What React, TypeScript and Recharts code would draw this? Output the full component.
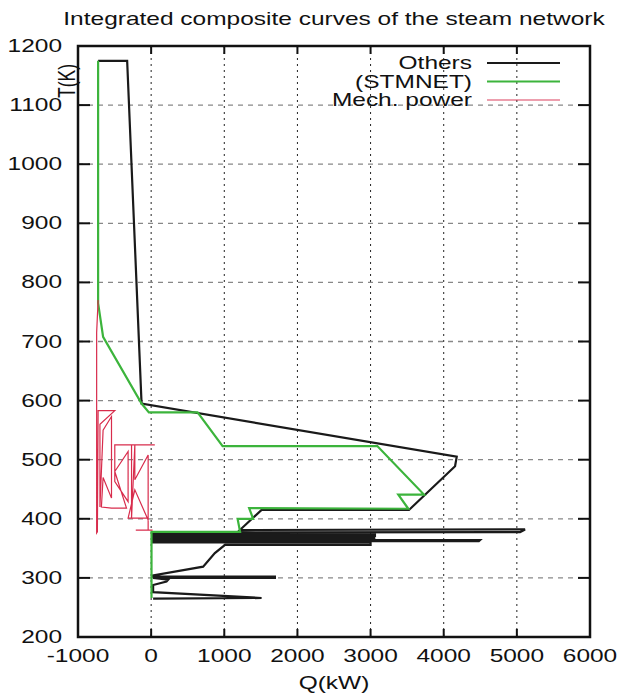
import { ComposedChart, Line, XAxis, YAxis, CartesianGrid, ReferenceArea } from 'recharts';

// Q (kW), T (K), in plotting order
const othersCurve: number[][] = [
  [-725, 1175], [-328, 1175], [-131, 595], [4178, 505], [4155, 489], [3525, 415],
  [1510, 415], [1213, 381], [5112, 382], [5044, 377.5], [25, 377], [25, 374],
  [3060, 374], [3060, 371], [25, 371], [25, 368], [3050, 368], [3050, 366],
  [25, 366], [25, 364], [4497, 364], [4480, 362], [25, 362], [25, 360],
  [3000, 360], [3000, 356], [1010, 356], [871, 342], [711, 319], [27, 304],
  [27, 302], [1692, 302], [1692, 300], [27, 300], [233, 297], [210, 294],
  [27, 288], [27, 276], [1510, 266], [27, 265],
];

const stmnetCurve: number[][] = [
  [-725, 1175], [-725, 765], [-657, 708], [-131, 595], [-31, 580], [635, 580],
  [977, 523], [3092, 523], [3730, 441], [3379, 441], [3516, 417], [1340, 418],
  [1395, 400], [1182, 400], [1216, 378], [5, 378], [5, 266],
];

const mechCurve: number[][] = [
  [-725, 770], [-745, 715], [-745, 376], [-735, 378], [-725, 583], [-497, 583],
  [-700, 560], [-700, 420], [-657, 550], [-542, 573], [-542, 435], [-657, 470],
  [-680, 420], [-542, 418], [-337, 418], [-497, 480], [-315, 514], [-315, 429],
  [-497, 463], [-497, 525], [50, 525], [-268, 525], [-268, 401], [-223, 525],
  [-223, 466], [-41, 508], [-41, 398], [-223, 449], [-315, 401], [-41, 401],
  [-41, 381], [-210, 381], [20, 381],
];

const seriesNames = ['Others', '(STMNET)', 'Mech. power'];
const xTicks = [-1000, 0, 1000, 2000, 3000, 4000, 5000, 6000];
const yTicks = [200, 300, 400, 500, 600, 700, 800, 900, 1000, 1100, 1200];

const toPoints = (c: number[][]) => c.map(([q, t]) => ({ q, t }));

const PLOT = { left: 78, top: 46, right: 590, bottom: 637 };
const SX = 1.4; // the picture is stretched sideways
const FONT = '"Liberation Sans", Arial, sans-serif';
const FS = 17.5;
const colors = ['#1a1a1a', '#3cb43c', '#d82c4c'];

function Stretched({ x, y, anchor = 'middle', children, rotate = 0 }: any) {
  return (
    <text
      transform={`translate(${x},${y}) scale(${SX},1) rotate(${rotate})`}
      textAnchor={anchor}
      fontFamily={FONT}
      fontSize={FS}
      fill="#111"
    >
      {children}
    </text>
  );
}

const XTick = ({ x, payload }: any) => (
  <g>
    <line x1={x} x2={x} y1={PLOT.bottom} y2={PLOT.bottom - 8} stroke="#111" strokeWidth={2} />
    <line x1={x} x2={x} y1={PLOT.top} y2={PLOT.top + 8} stroke="#111" strokeWidth={2} />
    <Stretched x={x} y={PLOT.bottom + 25}>{payload.value}</Stretched>
  </g>
);

const YTick = ({ y, payload }: any) => (
  <g>
    <line x1={PLOT.left} x2={PLOT.left + 12} y1={y} y2={y} stroke="#111" strokeWidth={2} />
    <line x1={PLOT.right} x2={PLOT.right - 12} y1={y} y2={y} stroke="#111" strokeWidth={2} />
    <Stretched x={PLOT.left - 16} y={y + 6} anchor="end">{payload.value}</Stretched>
  </g>
);

export default function App() {
  return (
    <div style={{ position: 'absolute', left: 0, top: 0, width: 622, height: 693, background: '#fff' }}>
      <ComposedChart
        width={622}
        height={693}
        margin={{ top: PLOT.top, left: PLOT.left - 30, right: 622 - PLOT.right, bottom: 693 - PLOT.bottom - 30 }}
      >
        <CartesianGrid horizontal={false} stroke="#222" strokeDasharray="2 4" />
        <CartesianGrid vertical={false} stroke="#888" strokeWidth={1.3} strokeDasharray="5 5" />
        <XAxis
          type="number"
          dataKey="q"
          domain={[-1000, 6000]}
          ticks={xTicks}
          allowDataOverflow
          height={30}
          axisLine={false}
          tickLine={false}
          tick={(p: any) => <XTick {...p} />}
          interval={0}
        />
        <YAxis
          type="number"
          dataKey="t"
          domain={[200, 1200]}
          ticks={yTicks}
          allowDataOverflow
          width={30}
          axisLine={false}
          tickLine={false}
          tick={(p: any) => <YTick {...p} />}
          interval={0}
        />
        <Line data={toPoints(othersCurve)} dataKey="t" name={seriesNames[0]} type="linear" stroke={colors[0]} strokeWidth={2.2} dot={false} isAnimationActive={false} />
        <Line data={toPoints(stmnetCurve)} dataKey="t" name={seriesNames[1]} type="linear" stroke={colors[1]} strokeWidth={2.2} dot={false} isAnimationActive={false} />
        <Line data={toPoints(mechCurve)} dataKey="t" name={seriesNames[2]} type="linear" stroke={colors[2]} strokeWidth={1.2} dot={false} isAnimationActive={false} />
        <ReferenceArea x1={-1000} x2={6000} y1={200} y2={1200} fill="none" stroke="#111" strokeWidth={2.5} />
      </ComposedChart>
      <svg width={622} height={693} style={{ position: 'absolute', left: 0, top: 0, pointerEvents: 'none' }}>
        <Stretched x={(PLOT.left + PLOT.right) / 2} y={25}>Integrated composite curves of the steam network</Stretched>
        <Stretched x={(PLOT.left + PLOT.right) / 2} y={689}>Q(kW)</Stretched>
        <Stretched x={75} y={81} rotate={-90}>T(K)</Stretched>
        {seriesNames.map((n, i) => (
          <g key={n}>
            <Stretched x={472} y={69 + i * 18.5} anchor="end">{n}</Stretched>
            <line x1={487} x2={560} y1={63 + i * 18.5} y2={63 + i * 18.5} stroke={colors[i]} strokeWidth={i === 2 ? 1.3 : 2} opacity={i === 2 ? 0.6 : 1} />
          </g>
        ))}
      </svg>
    </div>
  );
}
